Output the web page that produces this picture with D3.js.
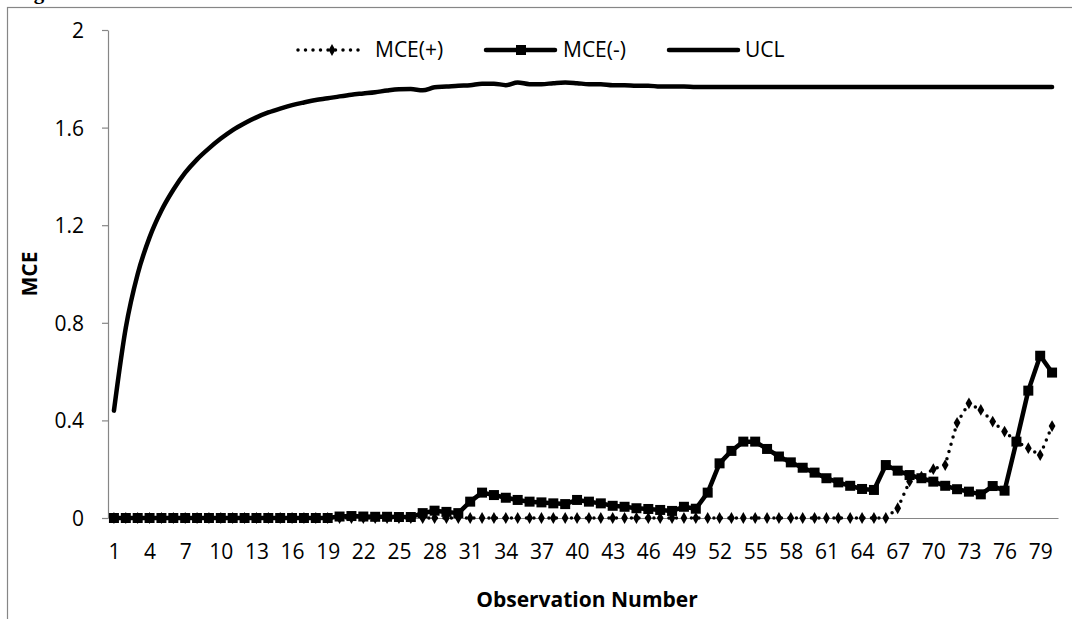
<!DOCTYPE html>
<html>
<head>
<meta charset="utf-8">
<script src="https://cdn.jsdelivr.net/npm/d3@7"></script>
<style>
  body { margin: 0; background: #fff; }
  svg { display: block; font-family: "Open Sans", sans-serif; }
</style>
</head>
<body>
<svg class="chart"></svg>
<script>
var W = 1072, H = 619;

// observation numbers 1..80
var obs = [1,2,3,4,5,6,7,8,9,10,11,12,13,14,15,16,17,18,19,20,
           21,22,23,24,25,26,27,28,29,30,31,32,33,34,35,36,37,38,39,40,
           41,42,43,44,45,46,47,48,49,50,51,52,53,54,55,56,57,58,59,60,
           61,62,63,64,65,66,67,68,69,70,71,72,73,74,75,76,77,78,79,80];
var xTicks = [1,4,7,10,13,16,19,22,25,28,31,34,37,40,43,46,49,52,55,58,61,64,67,70,73,76,79];
var yTicks = [0, 0.4, 0.8, 1.2, 1.6, 2];

var mcePlus = [0,0,0,0,0,0,0,0,0,0,0,0,0,0,0,0,0,0,0,0,
               0,0,0,0,0,0,0,0,0,0,0,0,0,0,0,0,0,0,0,0,
               0,0,0,0,0,0,0,0,0,0,0,0,0,0,0,0,0,0,0,0,
               0,0,0,0,0,0,0.04,0.15,0.17,0.2,0.217,0.39,0.47,0.443,0.395,0.354,0.313,0.286,0.258,0.377];

var mceMinus = [0,0,0,0,0,0,0,0,0,0,0,0,0,0,0,0,0,0,0,0.006,
                0.008,0.006,0.005,0.005,0.004,0.004,0.02,0.03,0.025,0.02,0.067,0.104,0.094,0.083,0.074,0.067,0.064,0.06,0.057,0.074,
                0.067,0.06,0.05,0.046,0.04,0.037,0.033,0.029,0.046,0.038,0.104,0.224,0.275,0.313,0.313,0.283,0.252,0.228,0.206,0.186,
                0.163,0.146,0.132,0.119,0.115,0.217,0.194,0.176,0.163,0.149,0.132,0.118,0.108,0.097,0.131,0.112,0.313,0.522,0.665,0.596];

var ucl = [0.44,0.78,1.0,1.15,1.26,1.345,1.415,1.47,1.515,1.555,1.59,1.618,1.642,1.662,1.678,1.692,1.703,1.713,1.72,1.728,
           1.735,1.74,1.745,1.752,1.757,1.758,1.753,1.765,1.768,1.772,1.774,1.78,1.78,1.774,1.785,1.778,1.778,1.782,1.785,1.782,
           1.778,1.778,1.774,1.774,1.772,1.772,1.768,1.768,1.768,1.766,1.766,1.766,1.766,1.766,1.766,1.766,1.766,1.766,1.766,1.766,
           1.766,1.766,1.766,1.766,1.766,1.766,1.766,1.766,1.766,1.766,1.766,1.766,1.766,1.766,1.766,1.766,1.766,1.766,1.766,1.766];

var plot = {left: 108, right: 1058, top: 30, bottom: 518};

var svg = d3.select(".chart").attr("width", W).attr("height", H);

// caption above the chart frame, cut off by the top edge as in the source
svg.append("text")
    .attr("x", 15).attr("y", -1)
    .style("font-family", "'Liberation Serif', serif")
    .style("font-weight", "bold")
    .style("font-size", "21px")
    .text("Figure 4");

// chart frame (cut by the picture edge)
svg.append("rect")
    .attr("x", 7.5).attr("y", 7.5)
    .attr("width", 1200).attr("height", 800)
    .attr("fill", "none")
    .attr("stroke", "#868686")
    .attr("stroke-width", 1.2);

var x = d3.scalePoint()
    .domain(obs)
    .range([plot.left, plot.right])
    .padding(0.5);

var y = d3.scaleLinear()
    .domain([0, 2])
    .range([plot.bottom, plot.top]);

var yAxis = d3.axisLeft(y).tickValues(yTicks).tickSize(6).tickSizeOuter(0).tickPadding(18)
    .tickFormat(function(d) { return String(d); });
var xAxis = d3.axisBottom(x).tickValues(xTicks).tickSize(0).tickPadding(26);

var gy = svg.append("g")
    .attr("transform", "translate(" + plot.left + ",0)")
    .call(yAxis);
var gx = svg.append("g")
    .attr("transform", "translate(0," + plot.bottom + ")")
    .call(xAxis);

[gx, gy].forEach(function(g) {
  g.select(".domain").attr("stroke", "#868686").attr("stroke-width", 1.2);
  g.selectAll(".tick line").attr("stroke", "#868686").attr("stroke-width", 1.2);
  g.selectAll(".tick text")
      .attr("fill", "#000")
      .style("font-family", "'Open Sans', sans-serif")
      .style("font-size", "21px");
});
gy.selectAll(".tick text").attr("dy", "0.36em");

// axis titles
svg.append("text")
    .attr("transform", "translate(37,274) rotate(-90)")
    .attr("text-anchor", "middle")
    .style("font-weight", "bold")
    .style("font-size", "21px")
    .text("MCE");

svg.append("text")
    .attr("x", 587).attr("y", 607)
    .attr("text-anchor", "middle")
    .style("font-weight", "bold")
    .style("font-size", "21px")
    .text("Observation Number");

function line(vals) {
  return d3.line()
    .x(function(d, i) { return x(obs[i]); })
    .y(function(d) { return y(d); })(vals);
}

var diamond = d3.symbol().type(d3.symbolDiamond).size(40);

// MCE(+)
svg.append("path")
    .attr("d", line(mcePlus))
    .attr("fill", "none")
    .attr("stroke", "#000")
    .attr("stroke-width", 3.5)
    .attr("stroke-linecap", "round")
    .attr("stroke-dasharray", "0,7.5");
svg.selectAll(".mp")
    .data(mcePlus)
  .enter().append("path")
    .attr("class", "mp")
    .attr("d", diamond)
    .attr("transform", function(d, i) { return "translate(" + x(obs[i]) + "," + y(d) + ")"; })
    .attr("fill", "#000");

// MCE(-)
svg.append("path")
    .attr("d", line(mceMinus))
    .attr("fill", "none")
    .attr("stroke", "#000")
    .attr("stroke-width", 4.5)
    .attr("stroke-linejoin", "round");
svg.selectAll(".mm")
    .data(mceMinus)
  .enter().append("rect")
    .attr("class", "mm")
    .attr("x", function(d, i) { return x(obs[i]) - 5; })
    .attr("y", function(d) { return y(d) - 5; })
    .attr("width", 10).attr("height", 10)
    .attr("fill", "#000");

// UCL
svg.append("path")
    .attr("d", d3.line()
        .x(function(d, i) { return x(obs[i]); })
        .y(function(d) { return y(d); })
        .curve(d3.curveMonotoneX)(ucl))
    .attr("fill", "none")
    .attr("stroke", "#000")
    .attr("stroke-width", 4.5)
    .attr("stroke-linejoin", "round")
    .attr("stroke-linecap", "round");

// legend
var legend = svg.append("g");
var ly = 50;

legend.append("line")
    .attr("x1", 298).attr("x2", 364).attr("y1", ly).attr("y2", ly)
    .attr("stroke", "#000").attr("stroke-width", 3.5)
    .attr("stroke-linecap", "round").attr("stroke-dasharray", "0,7.5");
legend.append("path")
    .attr("d", diamond)
    .attr("transform", "translate(332," + ly + ")");
legend.append("text").attr("x", 375).attr("y", ly + 7).style("font-size", "21px").text("MCE(+)");

legend.append("line")
    .attr("x1", 486).attr("x2", 555).attr("y1", ly).attr("y2", ly)
    .attr("stroke", "#000").attr("stroke-width", 4.5).attr("stroke-linecap", "round");
legend.append("rect")
    .attr("x", 516).attr("y", ly - 5).attr("width", 10).attr("height", 10);
legend.append("text").attr("x", 563).attr("y", ly + 7).style("font-size", "21px").text("MCE(-)");

legend.append("line")
    .attr("x1", 669).attr("x2", 738).attr("y1", ly).attr("y2", ly)
    .attr("stroke", "#000").attr("stroke-width", 4.5).attr("stroke-linecap", "round");
legend.append("text").attr("x", 745).attr("y", ly + 7).style("font-size", "21px").text("UCL");
</script>
</body>
</html>
